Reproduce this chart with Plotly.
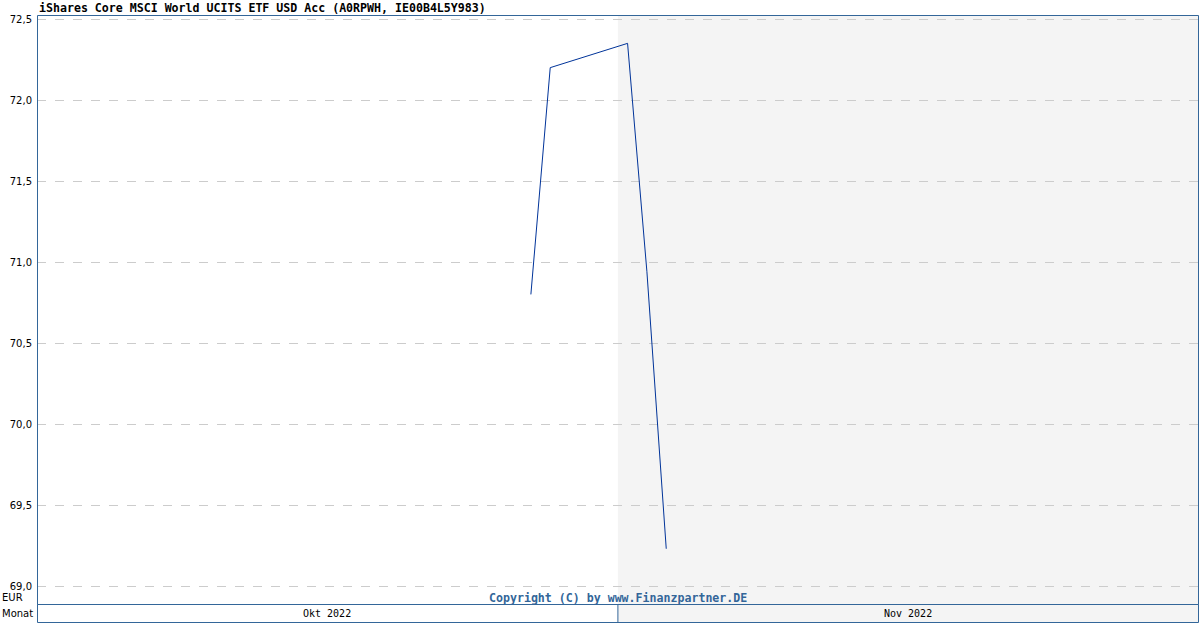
import plotly.graph_objects as go

# Data
dates = ["2022-10-27 12:00", "2022-10-28 12:00", "2022-11-01 12:00", "2022-11-02 12:00", "2022-11-03 12:00"]
prices = [70.80, 72.20, 72.35, 70.94, 69.23]
y_ticks = [69.0, 69.5, 70.0, 70.5, 71.0, 71.5, 72.0, 72.5]
y_tick_labels = ["69,0", "69,5", "70,0", "70,5", "71,0", "71,5", "72,0", "72,5"]
months = ["Okt 2022", "Nov 2022"]
month_starts = ["2022-10-01 23:00", "2022-11-01"]
month_ends = ["2022-11-01", "2022-12-01"]
month_centers = ["2022-10-16 23:30", "2022-11-16"]

W, H = 1200, 630
ml, mr, mt, mb = 37, 2, 15, 8
plot_w = W - ml - mr
plot_h = H - mt - mb
bar_h = 18
dom0 = bar_h / plot_h
border = "#336699"
hx = 0.5 / plot_w
hy = 0.5 / plot_h

fig = go.Figure()
fig.add_trace(go.Scatter(x=dates, y=prices, mode="lines",
                         line=dict(color="#003399", width=1), hoverinfo="skip"))

shapes = []
# November shaded background (plot and bar)
shapes.append(dict(type="rect", xref="x", yref="paper", x0=month_starts[1], x1=month_ends[1],
                   y0=0, y1=1, fillcolor="#f4f4f4", line=dict(width=0), layer="below"))
# plot border
shapes.append(dict(type="rect", xref="paper", yref="paper", x0=hx, x1=1 + hx, y0=dom0 - hy, y1=1 - hy,
                   line=dict(color=border, width=1), fillcolor="rgba(0,0,0,0)", layer="above"))
# month bar border
shapes.append(dict(type="rect", xref="paper", yref="paper", x0=hx, x1=1 + hx, y0=-hy, y1=dom0 - hy,
                   line=dict(color=border, width=1), fillcolor="rgba(0,0,0,0)", layer="above"))
# divider in bar
shapes.append(dict(type="line", xref="x", yref="paper", x0=month_starts[1], x1=month_starts[1],
                   y0=0, y1=dom0, line=dict(color=border, width=1)))

ann = []
ann.append(dict(text="<b>iShares Core MSCI World UCITS ETF USD Acc (A0RPWH, IE00B4L5Y983)</b>",
                xref="paper", yref="paper", x=0, y=1 + 7 / plot_h, xanchor="left", yanchor="middle",
                showarrow=False, font=dict(family="DejaVu Sans Mono", size=11.6, color="#000000")))
ann.append(dict(text="<b>Copyright (C) by www.Finanzpartner.DE</b>",
                xref="x", yref="paper", x=month_starts[1], y=(H - mb - 598) / plot_h,
                xanchor="center", yanchor="middle", showarrow=False,
                font=dict(family="DejaVu Sans Mono", size=11.6, color="#336699")))
for m, c in zip(months, month_centers):
    ann.append(dict(text=m, xref="x", yref="paper", x=c, y=dom0 / 2, xanchor="center",
                    yanchor="middle", showarrow=False,
                    font=dict(family="DejaVu Sans Mono", size=10, color="#000000")))
ann.append(dict(text="EUR", xref="paper", yref="paper", x=-ml / plot_w, y=(H - mb - 597) / plot_h,
                xanchor="left", yanchor="middle", showarrow=False,
                font=dict(family="DejaVu Sans", size=10, color="#000000")))
ann.append(dict(text="Monat", xref="paper", yref="paper", x=-ml / plot_w, y=dom0 / 2,
                xanchor="left", yanchor="middle", showarrow=False,
                font=dict(family="DejaVu Sans", size=10, color="#000000")))

fig.update_layout(
    width=W, height=H,
    margin=dict(l=ml, r=mr, t=mt, b=mb),
    paper_bgcolor="white", plot_bgcolor="rgba(0,0,0,0)",
    showlegend=False,
    shapes=shapes, annotations=ann,
    xaxis=dict(type="date", range=[month_starts[0], month_ends[1]], showgrid=False,
               showticklabels=False, zeroline=False, showline=False, ticks=""),
    yaxis=dict(domain=[dom0, 1], range=[68.889, 72.525], tickvals=y_ticks, ticktext=y_tick_labels,
               showgrid=True, gridcolor="#cccccc", griddash="dash", gridwidth=1,
               zeroline=False, showline=False, ticks="", ticklabelstandoff=4,
               tickfont=dict(family="DejaVu Sans", size=10, color="#000000")),
)

fig.write_html("out.html", config={"displayModeBar": False},
               post_script="document.body.style.margin='0';document.body.style.padding='0';")
